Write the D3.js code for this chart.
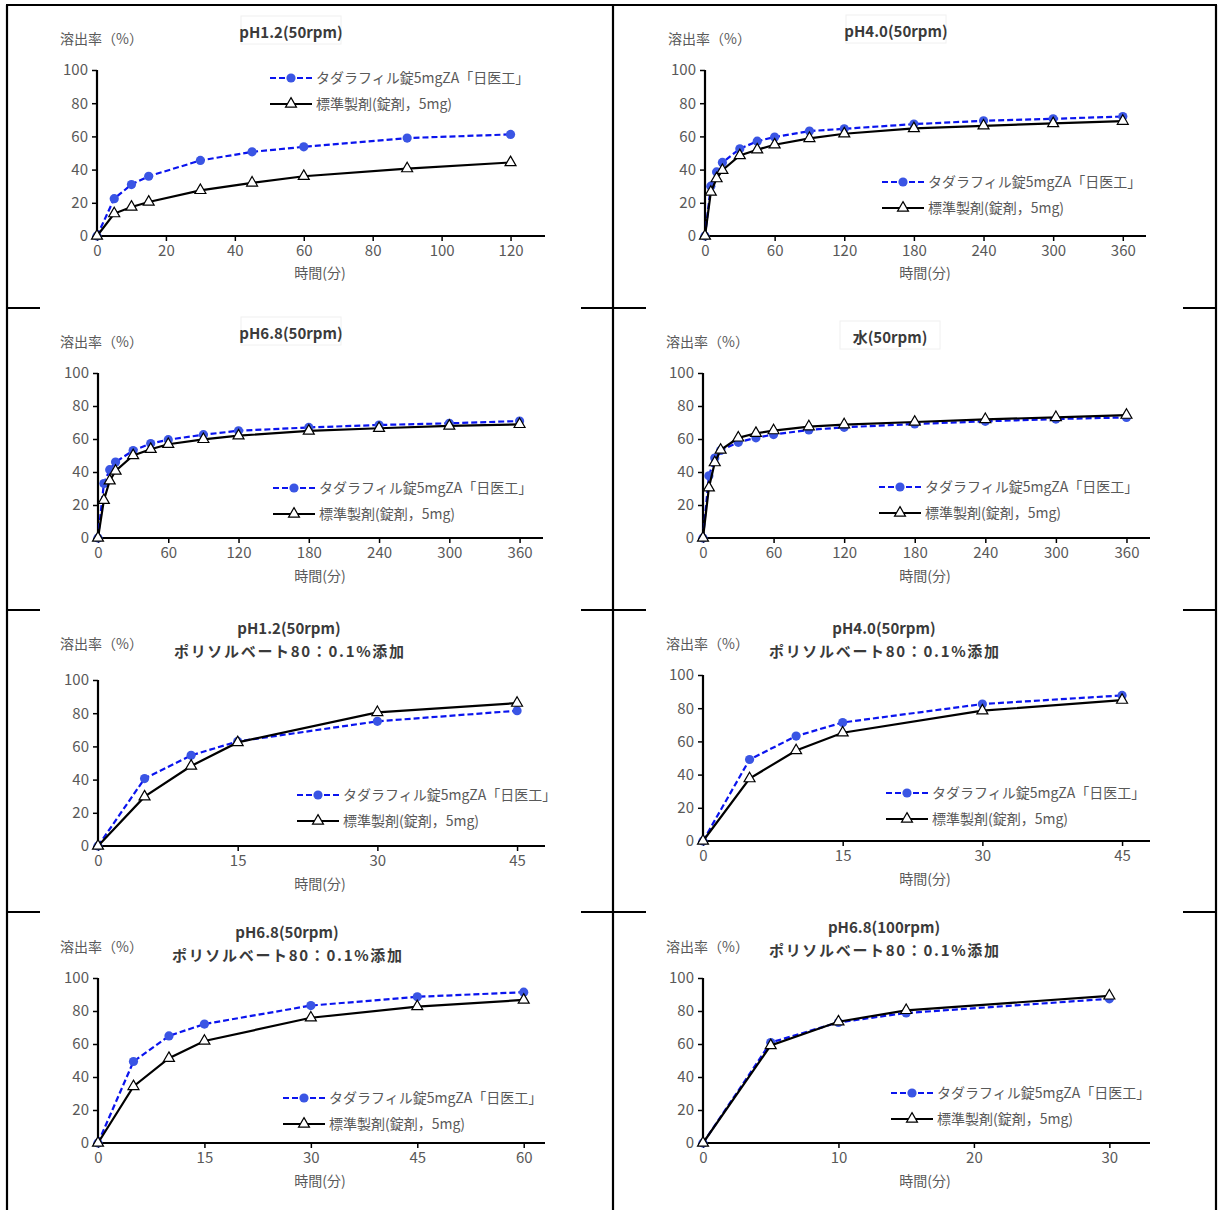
<!DOCTYPE html>
<html><head><meta charset="utf-8">
<script src="https://cdn.jsdelivr.net/npm/d3@7"></script>
<style>
body{margin:0;background:#fff}
svg text{font-family:"Noto Sans CJK JP","Noto Sans",sans-serif}
</style>
</head><body>
<svg id="c" width="1218" height="1210"></svg>
<script>
// ---------- data ----------
const seriesNames = ["タダラフィル錠5mgZA「日医工」", "標準製剤(錠剤，5mg)"];
const yTickValues = [0, 20, 40, 60, 80, 100];
const yAxisTitle = "溶出率（%）";
const xAxisTitle = "時間(分)";
const addTitle = "ポリソルベート80：0.1%添加";

const t120 = [0, 5, 10, 15, 30, 45, 60, 90, 120];
const t360 = [0, 5, 10, 15, 30, 45, 60, 90, 120, 180, 240, 300, 360];
const t45 = [0, 5, 10, 15, 30, 45];
const t60 = [0, 5, 10, 15, 30, 45, 60];
const t30 = [0, 5, 10, 15, 30];

const ticks120 = [0, 20, 40, 60, 80, 100, 120];
const ticks360 = [0, 60, 120, 180, 240, 300, 360];
const ticks45 = [0, 15, 30, 45];
const ticks60 = [0, 15, 30, 45, 60];
const ticks30 = [0, 10, 20, 30];

const ph12Test = [0, 22.5, 31, 36, 45.5, 50.7, 53.7, 59, 61.2];
const ph12Ref  = [0, 13.5, 17.5, 20.5, 27.5, 32, 36, 40.6, 44.3];
const ph40Test = [0, 30, 38.6, 44.3, 52.5, 57.1, 59.6, 63.2, 64.6, 67.4, 69.4, 70.6, 72];
const ph40Ref  = [0, 26.5, 34.6, 39.6, 48.5, 52, 55, 58.8, 61.6, 64.8, 66.4, 67.8, 69.2];
const ph68Test = [0, 33, 41.4, 46, 53, 57.2, 59.6, 62.6, 65, 67, 68.5, 69.5, 70.9];
const ph68Ref  = [0, 22.9, 34.7, 40.6, 50, 53.8, 56.8, 59.8, 62, 64.9, 66.5, 67.9, 68.9];
const waterTest = [0, 37.7, 48.5, 53.1, 58, 60.7, 62.7, 65.5, 67.1, 69.1, 70.7, 72.1, 73.1];
const waterRef  = [0, 30.5, 45.7, 53.3, 60.7, 63.5, 65.1, 67.5, 68.7, 70.3, 71.9, 73.1, 74.5];
const ps12Test = [0, 40.6, 54.6, 63, 75.1, 81.5];
const ps12Ref  = [0, 29.7, 48.2, 62.4, 80.5, 86.1];
const ps40Test = [0, 49.1, 63.2, 71.4, 82.5, 87.7];
const ps40Ref  = [0, 37.6, 54.5, 65.2, 78.5, 84.9];
const ps68Test = [0, 49.4, 64.9, 72.1, 83.3, 88.6, 91.4];
const ps68Ref  = [0, 34.3, 51.4, 61.8, 75.9, 82.7, 86.7];
const ps68hTest = [0, 60.9, 73.1, 78.8, 87.4];
const ps68hRef  = [0, 59.1, 73.5, 80.4, 89.2];

// ---------- layout ----------
const panels = [
  {title:["pH1.2(50rpm)"], t:t120, test:ph12Test, ref:ph12Ref, xMax:130, xt:ticks120,
   x0:97, x1:545, yT:70, yB:236, tx:291, ty:[38], box:true, yl:[60,44], xl:[320,278], lg:[270,78]},
  {title:["pH4.0(50rpm)"], t:t360, test:ph40Test, ref:ph40Ref, xMax:380, xt:ticks360,
   x0:705, x1:1146, yT:70, yB:236, tx:896, ty:[37], box:true, yl:[668,44], xl:[925,278], lg:[882,182]},
  {title:["pH6.8(50rpm)"], t:t360, test:ph68Test, ref:ph68Ref, xMax:380, xt:ticks360,
   x0:98, x1:543, yT:373, yB:538, tx:291, ty:[339], box:true, yl:[60,347], xl:[320,581], lg:[273,488]},
  {title:["水(50rpm)"], t:t360, test:waterTest, ref:waterRef, xMax:380, xt:ticks360,
   x0:703, x1:1150, yT:373, yB:538, tx:890, ty:[343], box:true, yl:[666,347], xl:[925,581], lg:[879,487]},
  {title:["pH1.2(50rpm)", addTitle], t:t45, test:ps12Test, ref:ps12Ref, xMax:48, xt:ticks45,
   x0:98, x1:545, yT:680, yB:846, tx:289, ty:[634,657], yl:[60,649], xl:[320,889], lg:[297,795]},
  {title:["pH4.0(50rpm)", addTitle], t:t45, test:ps40Test, ref:ps40Ref, xMax:48, xt:ticks45,
   x0:703, x1:1150, yT:675, yB:841, tx:884, ty:[634,657], yl:[666,649], xl:[925,884], lg:[886,793]},
  {title:["pH6.8(50rpm)", addTitle], t:t60, test:ps68Test, ref:ps68Ref, xMax:63, xt:ticks60,
   x0:98, x1:545, yT:978, yB:1143, tx:287, ty:[938,961], yl:[60,952], xl:[320,1186], lg:[283,1098]},
  {title:["pH6.8(100rpm)", addTitle], t:t30, test:ps68hTest, ref:ps68hRef, xMax:33, xt:ticks30,
   x0:703, x1:1150, yT:978, yB:1143, tx:884, ty:[933,956], yl:[666,952], xl:[925,1186], lg:[891,1093]}
];

const svg = d3.select("#c");
const grey = "#595959";
const blueLine = "#0a14ee";
const blueDot = "#3a55e4";

// frame
const frame = svg.append("g").attr("stroke", "#000").attr("stroke-width", 2.2);
frame.append("line").attr("x1",6).attr("x2",1217).attr("y1",5).attr("y2",5);
frame.append("line").attr("x1",7).attr("x2",7).attr("y1",5).attr("y2",1210);
frame.append("line").attr("x1",1216).attr("x2",1216).attr("y1",5).attr("y2",1210);
frame.append("line").attr("x1",613).attr("x2",613).attr("y1",5).attr("y2",1210);
[308, 610, 912].forEach(y => {
  [[7,40],[581,646],[1183,1216]].forEach(([a,b]) => {
    frame.append("line").attr("x1",a).attr("x2",b).attr("y1",y).attr("y2",y);
  });
});

const tri = d3.symbol().type(d3.symbolTriangle).size(52);

panels.forEach(p => {
  const g = svg.append("g");
  const x = d3.scaleLinear().domain([0, p.xMax]).range([p.x0, p.x1]);
  const y = d3.scaleLinear().domain([0, 100]).range([p.yB, p.yT]);

  // titles
  if (p.box) {
    g.append("rect").attr("x", p.tx - 50).attr("y", p.ty[0] - 22).attr("width", 100).attr("height", 28)
      .attr("fill", "none").attr("stroke", "#f0f0f0").attr("stroke-width", 1);
  }
  p.title.forEach((s, i) => {
    const tt = g.append("text").attr("x", p.tx).attr("y", p.ty[i]).attr("text-anchor", "middle")
      .attr("font-size", 15).attr("font-weight", "bold").attr("fill", "#3a3a3a").text(s);
    if (i === 1) tt.attr("textLength", 230).attr("lengthAdjust", "spacing");
  });

  // axis titles
  g.append("text").attr("x", p.yl[0]).attr("y", p.yl[1]).attr("font-size", 14).attr("fill", grey).text(yAxisTitle);
  g.append("text").attr("x", p.xl[0]).attr("y", p.xl[1]).attr("text-anchor", "middle")
    .attr("font-size", 14).attr("fill", grey).text(xAxisTitle);

  // axes
  const ya = d3.axisLeft(y).tickValues(yTickValues).tickSize(5).tickPadding(4);
  const xa = d3.axisBottom(x).tickValues(p.xt).tickSize(5).tickPadding(4);
  const gy = g.append("g").attr("transform", `translate(${p.x0},0)`).call(ya);
  const gx = g.append("g").attr("transform", `translate(0,${p.yB})`).call(xa);
  [gx, gy].forEach(a => {
    a.select(".domain").attr("stroke", "#000").attr("stroke-width", 2.2);
    a.selectAll(".tick line").attr("stroke", "#000").attr("stroke-width", 1.5);
    a.selectAll(".tick text").attr("fill", grey).attr("font-size", 15)
      .attr("font-family", '"Noto Sans CJK JP","Noto Sans",sans-serif');
  });
  gy.select(".domain").attr("d", `M0,${p.yB}V${p.yT}`);
  gy.selectAll(".tick line").attr("x2", -5);
  gx.select(".domain").attr("d", `M${p.x0},0H${p.x1}`);

  // lines
  const line = d3.line().x(d => x(d[0])).y(d => y(d[1]));
  const testPts = p.t.map((t, i) => [t, p.test[i]]);
  const refPts = p.t.map((t, i) => [t, p.ref[i]]);
  g.append("path").datum(testPts).attr("d", line).attr("fill", "none")
    .attr("stroke", blueLine).attr("stroke-width", 2.2).attr("stroke-dasharray", "6,3");
  g.selectAll(null).data(testPts).enter().append("circle")
    .attr("cx", d => x(d[0])).attr("cy", d => y(d[1])).attr("r", 4.6).attr("fill", blueDot);
  g.append("path").datum(refPts).attr("d", line).attr("fill", "none")
    .attr("stroke", "#000").attr("stroke-width", 2.2);
  g.selectAll(null).data(refPts).enter().append("path")
    .attr("d", tri).attr("transform", d => `translate(${x(d[0])},${y(d[1])})`)
    .attr("fill", "#fff").attr("stroke", "#000").attr("stroke-width", 1.2);

  // legend
  const [lx, ly] = p.lg;
  g.append("line").attr("x1", lx).attr("x2", lx + 42).attr("y1", ly).attr("y2", ly)
    .attr("stroke", blueLine).attr("stroke-width", 2.2).attr("stroke-dasharray", "6,3");
  g.append("circle").attr("cx", lx + 21).attr("cy", ly).attr("r", 4.6).attr("fill", blueDot);
  g.append("line").attr("x1", lx).attr("x2", lx + 42).attr("y1", ly + 26).attr("y2", ly + 26)
    .attr("stroke", "#000").attr("stroke-width", 2.2);
  g.append("path").attr("d", tri).attr("transform", `translate(${lx + 21},${ly + 26})`)
    .attr("fill", "#fff").attr("stroke", "#000").attr("stroke-width", 1.2);
  seriesNames.forEach((s, i) => {
    g.append("text").attr("x", lx + 46).attr("y", ly + i * 26 + 5).attr("font-size", 14)
      .attr("fill", grey).text(s);
  });
});
</script>
</body></html>
